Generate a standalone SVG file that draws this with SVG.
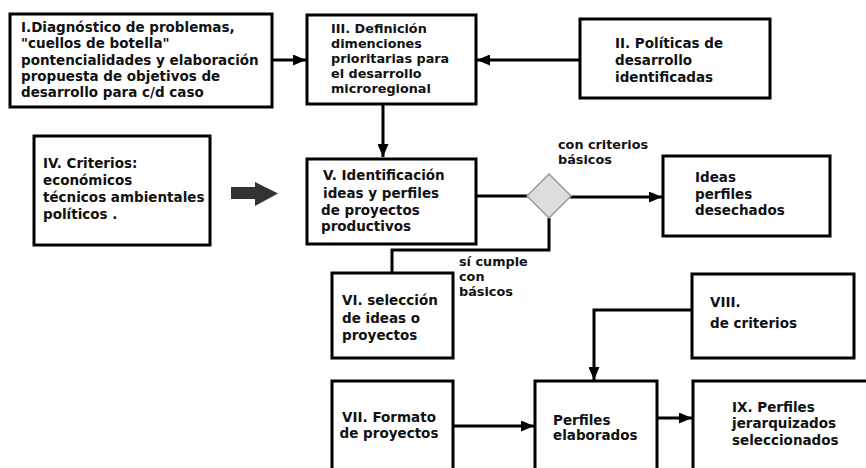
<svg xmlns="http://www.w3.org/2000/svg" width="866" height="468" viewBox="0 0 866 468">
<style>
.box{fill:#fff;stroke:#000;stroke-width:3}
text{font-family:"DejaVu Sans",sans-serif;font-weight:bold;font-size:13.5px;fill:#111}
.t{font-size:12.8px}
.c{stroke:#000;stroke-width:3;fill:none}
</style>
<defs>
<marker id="ah" markerUnits="userSpaceOnUse" markerWidth="13" markerHeight="11" refX="13" refY="5.5" orient="auto">
<path d="M0,0 L13,5.5 L0,11 z" fill="#000"/>
</marker>
</defs>
<rect width="866" height="468" fill="#fff"/>
<g id="connectors">
<line class="c" x1="272" y1="60" x2="306" y2="60" marker-end="url(#ah)"/>
<line class="c" x1="580" y1="60" x2="477" y2="60" marker-end="url(#ah)"/>
<line class="c" x1="383" y1="104" x2="383" y2="157" marker-end="url(#ah)"/>
<line class="c" x1="476" y1="196" x2="528" y2="196"/>
<line class="c" x1="570" y1="197" x2="662" y2="197" marker-end="url(#ah)"/>
<polyline class="c" points="549,218 549,250 392,250 392,273"/>
<polyline class="c" points="692,310 594,310 594,380" marker-end="url(#ah)"/>
<line class="c" x1="453" y1="426" x2="534" y2="426" marker-end="url(#ah)"/>
<line class="c" x1="657" y1="418" x2="692" y2="418" marker-end="url(#ah)"/>
<polygon points="231,187 255,187 255,182 278,193.5 255,206 255,199 231,199" fill="#333"/>
</g>
<g id="n1">
<rect class="box" x="10" y="14" width="262" height="93"/>
<text x="21" y="32">I.Diagnóstico de problemas,</text>
<text x="21" y="48">"cuellos de botella"</text>
<text x="21" y="64.5">pontencialidades y elaboración</text>
<text x="21" y="81">propuesta de objetivos de</text>
<text x="21" y="97">desarrollo para c/d caso</text>
</g>
<g id="n3">
<rect class="box" x="307" y="15" width="169" height="89"/>
<text class="t" x="331" y="33">III. Definición</text>
<text class="t" x="331" y="48">dimenciones</text>
<text class="t" x="331" y="63">prioritarias para</text>
<text class="t" x="331" y="78">el desarrollo</text>
<text class="t" x="331" y="93">microregional</text>
</g>
<g id="n2">
<rect class="box" x="580" y="19" width="190" height="79"/>
<text x="615" y="48">II. Políticas de</text>
<text x="615" y="65">desarrollo</text>
<text x="615" y="82">identificadas</text>
</g>
<g id="n4">
<rect class="box" x="34" y="136" width="176" height="109"/>
<text x="43" y="168">IV. Criterios:</text>
<text x="43" y="184.5">económicos</text>
<text x="43" y="201.5">técnicos ambientales</text>
<text x="43" y="218.5">políticos .</text>
</g>
<g id="n5">
<rect class="box" x="307" y="159" width="169" height="85"/>
<text x="323" y="180">V. Identificación</text>
<text x="323" y="198"> ideas y perfiles</text>
<text x="321" y="215">de proyectos</text>
<text x="321" y="231">productivos</text>
</g>
<g id="decision">
<polygon points="549,174 571,196 549,218 527,196" fill="#ddd" stroke="#999" stroke-width="1.5"/>
<text class="t" x="558" y="149">con criterios</text>
<text class="t" x="558" y="164">básicos</text>
</g>
<g id="n-ideas">
<rect class="box" x="663" y="156" width="167" height="80"/>
<text x="695" y="182">Ideas</text>
<text x="695" y="199">perfiles</text>
<text x="695" y="215">desechados</text>
</g>
<g id="n6">
<rect class="box" x="332" y="273" width="121" height="85"/>
<text x="342" y="305">VI. selección</text>
<text x="342" y="323">de ideas o</text>
<text x="342" y="340">proyectos</text>
<text class="t" x="459" y="266">sí cumple</text>
<text class="t" x="459" y="281">con</text>
<text class="t" x="459" y="296">básicos</text>
</g>
<g id="n8">
<rect class="box" x="692" y="274" width="162" height="84"/>
<text x="710" y="307">VIII.</text>
<text x="710" y="328">de criterios</text>
</g>
<g id="n7">
<rect class="box" x="332" y="381" width="121" height="100"/>
<text x="389" y="422" text-anchor="middle">VII. Formato</text>
<text x="389" y="438" text-anchor="middle">de proyectos</text>
</g>
<g id="n-perfiles">
<rect class="box" x="535" y="381" width="122" height="100"/>
<text x="553" y="425">Perfiles</text>
<text x="553" y="440">elaborados</text>
</g>
<g id="n9">
<rect class="box" x="693" y="381" width="190" height="100"/>
<text x="732" y="412">IX. Perfiles</text>
<text x="732" y="428">jerarquizados</text>
<text x="732" y="445">seleccionados</text>
</g>
</svg>
